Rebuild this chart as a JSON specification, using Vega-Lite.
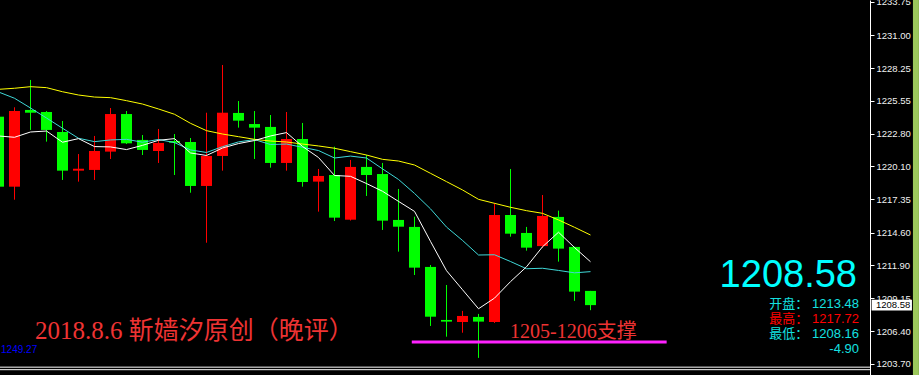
{
  "$schema": "https://vega.github.io/schema/vega-lite/v6.json",
  "width": 870,
  "height": 375,
  "autosize": {"type": "none"},
  "padding": {"left": 0, "top": 0, "right": 49, "bottom": 0},
  "background": "#000000",
  "config": {
    "view": {"stroke": null},
    "scale": {"continuousPadding": 0}
  },
  "datasets": {
    "bars": [
      {"i": 0, "o": 1224.22, "h": 1224.40, "l": 1218.20, "c": 1218.41, "ma5": 1222.62, "ma10": 1226.27, "mas": 1226.49},
      {"i": 1, "o": 1218.41, "h": 1225.00, "l": 1217.33, "c": 1224.69, "ma5": 1222.51, "ma10": 1225.75, "mas": 1226.58},
      {"i": 2, "o": 1224.78, "h": 1227.27, "l": 1223.12, "c": 1224.55, "ma5": 1222.95, "ma10": 1224.94, "mas": 1226.71},
      {"i": 3, "o": 1224.61, "h": 1224.69, "l": 1222.15, "c": 1223.12, "ma5": 1223.03, "ma10": 1224.11, "mas": 1226.63},
      {"i": 4, "o": 1222.95, "h": 1223.86, "l": 1218.97, "c": 1219.74, "ma5": 1222.10, "ma10": 1223.26, "mas": 1226.29},
      {"i": 5, "o": 1219.74, "h": 1221.12, "l": 1218.83, "c": 1219.90, "ma5": 1222.40, "ma10": 1222.43, "mas": 1226.02},
      {"i": 6, "o": 1219.80, "h": 1222.62, "l": 1218.97, "c": 1221.37, "ma5": 1221.74, "ma10": 1222.15, "mas": 1225.85},
      {"i": 7, "o": 1221.32, "h": 1224.94, "l": 1220.71, "c": 1224.44, "ma5": 1221.71, "ma10": 1222.29, "mas": 1225.80},
      {"i": 8, "o": 1224.44, "h": 1224.69, "l": 1221.95, "c": 1222.01, "ma5": 1221.49, "ma10": 1222.34, "mas": 1225.55},
      {"i": 9, "o": 1222.29, "h": 1222.70, "l": 1221.04, "c": 1221.46, "ma5": 1221.84, "ma10": 1222.10, "mas": 1225.27},
      {"i": 10, "o": 1221.37, "h": 1223.20, "l": 1220.38, "c": 1222.04, "ma5": 1222.26, "ma10": 1222.33, "mas": 1224.86},
      {"i": 11, "o": 1222.20, "h": 1222.78, "l": 1219.38, "c": 1222.06, "ma5": 1222.40, "ma10": 1222.07, "mas": 1224.42},
      {"i": 12, "o": 1222.12, "h": 1222.45, "l": 1217.91, "c": 1218.47, "ma5": 1221.21, "ma10": 1221.46, "mas": 1223.67},
      {"i": 13, "o": 1218.47, "h": 1224.55, "l": 1213.76, "c": 1220.96, "ma5": 1221.00, "ma10": 1221.25, "mas": 1223.06},
      {"i": 14, "o": 1220.96, "h": 1228.51, "l": 1219.74, "c": 1224.55, "ma5": 1221.62, "ma10": 1221.73, "mas": 1222.78},
      {"i": 15, "o": 1224.53, "h": 1225.52, "l": 1223.31, "c": 1223.89, "ma5": 1221.99, "ma10": 1222.13, "mas": 1222.56},
      {"i": 16, "o": 1223.61, "h": 1224.69, "l": 1220.71, "c": 1223.31, "ma5": 1222.24, "ma10": 1222.32, "mas": 1222.34},
      {"i": 17, "o": 1223.37, "h": 1224.36, "l": 1219.99, "c": 1220.38, "ma5": 1222.62, "ma10": 1221.91, "mas": 1222.20},
      {"i": 18, "o": 1220.38, "h": 1224.61, "l": 1219.74, "c": 1222.37, "ma5": 1222.90, "ma10": 1221.95, "mas": 1222.12},
      {"i": 19, "o": 1222.37, "h": 1223.70, "l": 1218.41, "c": 1218.80, "ma5": 1221.75, "ma10": 1221.68, "mas": 1221.95},
      {"i": 20, "o": 1218.83, "h": 1219.88, "l": 1216.34, "c": 1219.30, "ma5": 1220.83, "ma10": 1221.41, "mas": 1221.79},
      {"i": 21, "o": 1219.38, "h": 1221.73, "l": 1215.56, "c": 1215.84, "ma5": 1219.34, "ma10": 1220.79, "mas": 1221.60},
      {"i": 22, "o": 1215.67, "h": 1220.63, "l": 1215.60, "c": 1220.05, "ma5": 1219.27, "ma10": 1220.95, "mas": 1221.32},
      {"i": 23, "o": 1220.05, "h": 1221.04, "l": 1217.64, "c": 1219.38, "ma5": 1218.67, "ma10": 1220.79, "mas": 1221.04},
      {"i": 24, "o": 1219.46, "h": 1220.38, "l": 1214.82, "c": 1215.59, "ma5": 1218.03, "ma10": 1219.89, "mas": 1220.68},
      {"i": 25, "o": 1215.65, "h": 1218.22, "l": 1213.02, "c": 1215.09, "ma5": 1217.19, "ma10": 1219.01, "mas": 1220.54},
      {"i": 26, "o": 1215.07, "h": 1215.92, "l": 1211.08, "c": 1211.69, "ma5": 1216.36, "ma10": 1217.85, "mas": 1220.21},
      {"i": 27, "o": 1211.75, "h": 1211.91, "l": 1206.85, "c": 1207.62, "ma5": 1213.87, "ma10": 1216.57, "mas": 1219.52},
      {"i": 28, "o": 1207.35, "h": 1210.25, "l": 1205.96, "c": 1207.21, "ma5": 1211.44, "ma10": 1215.06, "mas": 1218.83},
      {"i": 29, "o": 1207.18, "h": 1208.10, "l": 1206.29, "c": 1207.68, "ma5": 1209.86, "ma10": 1213.95, "mas": 1218.14},
      {"i": 30, "o": 1207.60, "h": 1207.85, "l": 1204.20, "c": 1207.21, "ma5": 1208.28, "ma10": 1212.74, "mas": 1217.36},
      {"i": 31, "o": 1207.18, "h": 1217.06, "l": 1207.10, "c": 1216.06, "ma5": 1209.16, "ma10": 1212.76, "mas": 1217.03},
      {"i": 32, "o": 1216.06, "h": 1219.88, "l": 1214.26, "c": 1214.51, "ma5": 1210.53, "ma10": 1212.20, "mas": 1216.70},
      {"i": 33, "o": 1214.57, "h": 1215.07, "l": 1213.10, "c": 1213.35, "ma5": 1211.76, "ma10": 1211.60, "mas": 1216.42},
      {"i": 34, "o": 1213.48, "h": 1217.72, "l": 1213.35, "c": 1215.98, "ma5": 1213.42, "ma10": 1211.64, "mas": 1216.20},
      {"i": 35, "o": 1215.90, "h": 1216.42, "l": 1212.19, "c": 1213.27, "ma5": 1214.63, "ma10": 1211.46, "mas": 1215.65},
      {"i": 36, "o": 1213.41, "h": 1213.43, "l": 1208.93, "c": 1209.70, "ma5": 1213.36, "ma10": 1211.26, "mas": 1215.04},
      {"i": 37, "o": 1209.76, "h": 1209.76, "l": 1208.16, "c": 1208.58, "ma5": 1212.18, "ma10": 1211.36, "mas": 1214.40}
    ]
  },
  "layer": [
    {
      "data": {"name": "bars"},
      "mark": {"type": "rule", "strokeWidth": 1},
      "encoding": {
        "x": {"field": "i", "type": "quantitative", "axis": null, "scale": {"domain": [0.09375, 54.46875], "nice": false, "zero": false, "padding": 0}},
        "y": {"field": "l", "type": "quantitative", "title": null, "scale": {"domain": [1202.78, 1233.905], "nice": false, "zero": false},
          "axis": {"orient": "right", "format": ".2f", "tickCount": 30, "values": [1203.70, 1206.40, 1209.15, 1211.90, 1214.60, 1217.35, 1220.10, 1222.80, 1225.55, 1228.25, 1231.00, 1233.75],
            "title": null, "grid": false, "domainColor": "#ffffff", "domainWidth": 1, "tickColor": "#ffffff", "tickSize": 4,
            "labelColor": "#f0f0f0", "labelFont": "Liberation Sans", "labelFontSize": 9.5, "labelPadding": 2, "labelFlush": false, "labelOverlap": false, "labelBound": false}},
        "y2": {"field": "h"},
        "color": {"condition": {"test": "datum.c > datum.o", "value": "#ff0000"}, "value": "#00ff00"}
      }
    },
    {
      "data": {"name": "bars"},
      "mark": {"type": "bar", "size": 11, "orient": "vertical"},
      "encoding": {
        "x": {"field": "i", "type": "quantitative", "axis": null, "scale": {"domain": [0.09375, 54.46875], "nice": false, "zero": false, "padding": 0}},
        "y": {"field": "o", "type": "quantitative", "title": null, "scale": {"domain": [1202.78, 1233.905], "nice": false, "zero": false}},
        "y2": {"field": "c"},
        "color": {"condition": {"test": "datum.c > datum.o", "value": "#ff0000"}, "value": "#00ff00"}
      }
    },
    {
      "data": {"name": "bars"},
      "mark": {"type": "line", "strokeWidth": 1, "color": "#3fd8d8"},
      "encoding": {
        "x": {"field": "i", "type": "quantitative", "axis": null, "scale": {"domain": [0.09375, 54.46875], "nice": false, "zero": false, "padding": 0}},
        "y": {"field": "ma10", "type": "quantitative", "title": null, "scale": {"domain": [1202.78, 1233.905], "nice": false, "zero": false}}
      }
    },
    {
      "data": {"name": "bars"},
      "mark": {"type": "line", "strokeWidth": 1, "color": "#ffff00"},
      "encoding": {
        "x": {"field": "i", "type": "quantitative", "axis": null, "scale": {"domain": [0.09375, 54.46875], "nice": false, "zero": false, "padding": 0}},
        "y": {"field": "mas", "type": "quantitative", "title": null, "scale": {"domain": [1202.78, 1233.905], "nice": false, "zero": false}}
      }
    },
    {
      "data": {"name": "bars"},
      "mark": {"type": "line", "strokeWidth": 1, "color": "#ffffff"},
      "encoding": {
        "x": {"field": "i", "type": "quantitative", "axis": null, "scale": {"domain": [0.09375, 54.46875], "nice": false, "zero": false, "padding": 0}},
        "y": {"field": "ma5", "type": "quantitative", "title": null, "scale": {"domain": [1202.78, 1233.905], "nice": false, "zero": false}}
      }
    },
    {
      "data": {"values": [{}]},
      "mark": {"type": "rule", "strokeWidth": 3, "color": "#ff22ff"},
      "encoding": {
        "x": {"datum": 25.83, "type": "quantitative", "axis": null},
        "x2": {"datum": 41.76},
        "y": {"datum": 1205.52, "type": "quantitative", "title": null}
      }
    },
    {
      "data": {"values": [{}]},
      "mark": {"type": "rule", "strokeWidth": 1, "color": "#ffffff"},
      "encoding": {
        "x": {"datum": 0.09375, "type": "quantitative", "axis": null},
        "x2": {"datum": 54.46875},
        "y": {"datum": 1203.43, "type": "quantitative", "title": null}
      }
    },
    {
      "data": {"values": [{}]},
      "mark": {"type": "rule", "strokeWidth": 1, "color": "#ffffff"},
      "encoding": {
        "x": {"datum": 0.09375, "type": "quantitative", "axis": null},
        "x2": {"datum": 54.46875},
        "y": {"datum": 1203.22, "type": "quantitative", "title": null}
      }
    },
    {
      "data": {"values": [{}]},
      "mark": {"type": "rule", "strokeWidth": 6, "color": "#9cc85c"},
      "encoding": {
        "x": {"datum": 57.34, "type": "quantitative", "axis": null}
      }
    },
    {
      "data": {"values": [{}]},
      "mark": {"type": "rect", "color": "#ffffff"},
      "encoding": {
        "x": {"datum": 54.57, "type": "quantitative", "axis": null},
        "x2": {"datum": 57.09},
        "y": {"datum": 1209.03, "type": "quantitative", "title": null},
        "y2": {"datum": 1208.13}
      }
    },
    {
      "data": {"values": [{}]},
      "mark": {"type": "text", "text": "1208.58", "color": "#000000", "font": "Liberation Sans", "fontSize": 9.5, "align": "left", "baseline": "middle"},
      "encoding": {
        "x": {"datum": 54.84, "type": "quantitative", "axis": null},
        "y": {"datum": 1208.58, "type": "quantitative", "title": null}
      }
    },
    {
      "data": {"values": [{}]},
      "mark": {"type": "text", "text": "1208.58", "color": "#00ffff", "font": "Liberation Sans", "fontSize": 38, "align": "right", "baseline": "alphabetic"},
      "encoding": {
        "x": {"datum": 53.656, "type": "quantitative", "axis": null},
        "y": {"datum": 1210.08, "type": "quantitative", "title": null}
      }
    },
    {
      "data": {"values": [{}]},
      "mark": {"type": "text", "text": "开盘： 1213.48", "color": "#14e0e0", "font": "Liberation Sans, Noto Sans CJK SC", "fontSize": 13, "align": "right", "baseline": "middle"},
      "encoding": {
        "x": {"datum": 53.78, "type": "quantitative", "axis": null},
        "y": {"datum": 1208.67, "type": "quantitative", "title": null}
      }
    },
    {
      "data": {"values": [{}]},
      "mark": {"type": "text", "text": "最高： 1217.72", "color": "#ff0000", "font": "Liberation Sans, Noto Sans CJK SC", "fontSize": 13, "align": "right", "baseline": "middle"},
      "encoding": {
        "x": {"datum": 53.78, "type": "quantitative", "axis": null},
        "y": {"datum": 1207.43, "type": "quantitative", "title": null}
      }
    },
    {
      "data": {"values": [{}]},
      "mark": {"type": "text", "text": "最低： 1208.16", "color": "#14e0e0", "font": "Liberation Sans, Noto Sans CJK SC", "fontSize": 13, "align": "right", "baseline": "middle"},
      "encoding": {
        "x": {"datum": 53.78, "type": "quantitative", "axis": null},
        "y": {"datum": 1206.18, "type": "quantitative", "title": null}
      }
    },
    {
      "data": {"values": [{}]},
      "mark": {"type": "text", "text": "-4.90", "color": "#14e0e0", "font": "Liberation Sans, Noto Sans CJK SC", "fontSize": 13, "align": "right", "baseline": "middle"},
      "encoding": {
        "x": {"datum": 53.78, "type": "quantitative", "axis": null},
        "y": {"datum": 1204.94, "type": "quantitative", "title": null}
      }
    },
    {
      "data": {"values": [{}]},
      "mark": {"type": "text", "text": "2018.8.6 靳嫱汐原创（晚评）", "color": "#ee3333", "font": "Liberation Serif, Noto Sans CJK SC", "fontSize": 25, "align": "left", "baseline": "alphabetic"},
      "encoding": {
        "x": {"datum": 2.28, "type": "quantitative", "axis": null},
        "y": {"datum": 1205.73, "type": "quantitative", "title": null}
      }
    },
    {
      "data": {"values": [{}]},
      "mark": {"type": "text", "text": "1205-1206支撑", "color": "#ee3333", "font": "Liberation Serif, Noto Sans CJK SC", "fontSize": 20, "align": "left", "baseline": "alphabetic"},
      "encoding": {
        "x": {"datum": 31.97, "type": "quantitative", "axis": null},
        "y": {"datum": 1205.85, "type": "quantitative", "title": null}
      }
    },
    {
      "data": {"values": [{}]},
      "mark": {"type": "text", "text": "1249.27", "color": "#0000ff", "font": "Liberation Sans", "fontSize": 10, "align": "left", "baseline": "middle"},
      "encoding": {
        "x": {"datum": 0.16, "type": "quantitative", "axis": null},
        "y": {"datum": 1204.85, "type": "quantitative", "title": null}
      }
    }
  ]
}
